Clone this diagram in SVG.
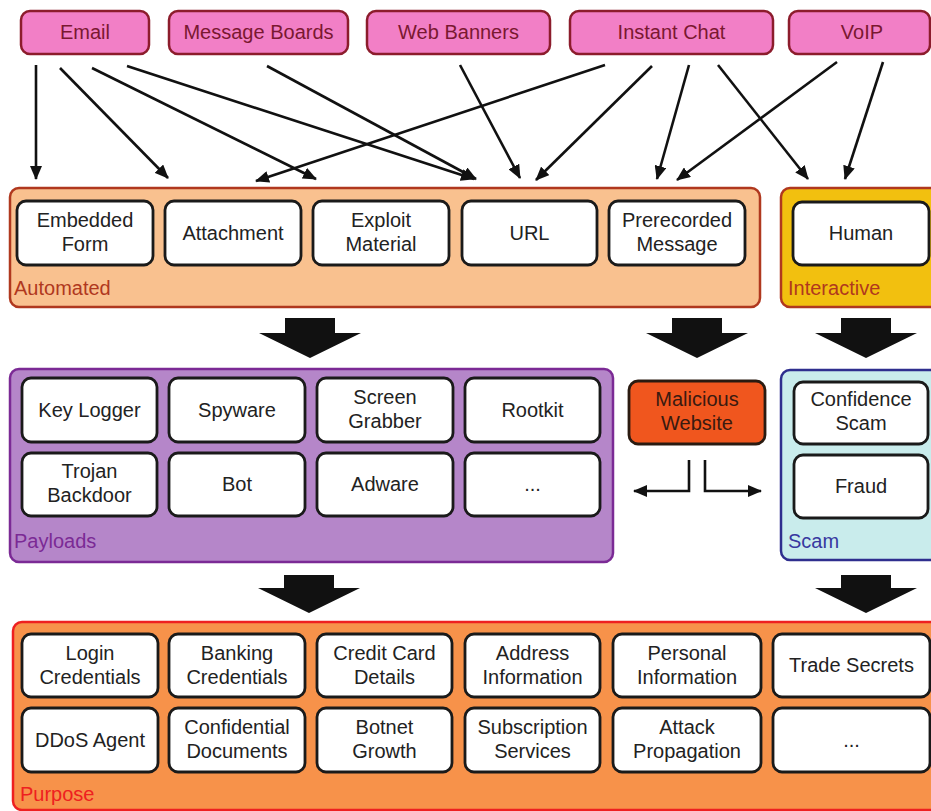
<svg xmlns="http://www.w3.org/2000/svg" width="931" height="811" viewBox="0 0 931 811">
<style>
text{font-family:"Liberation Sans",Arial,sans-serif;}
.src rect{fill:#f27fc6;stroke:#8c1c2c;stroke-width:2.5;}
.src text{fill:#7a1830;font-size:20px;text-anchor:middle;}
.box rect{fill:#fff;stroke:#1a1a1a;stroke-width:2.8;}
.box text{fill:#222;font-size:20px;text-anchor:middle;}
.lbl{font-size:20px;}
.con line,.con path{stroke:#111;stroke-width:2.6;fill:none;marker-end:url(#ah);}
.big{fill:#111;}
</style>
<defs>
<marker id="ah" markerUnits="userSpaceOnUse" markerWidth="14" markerHeight="12" refX="13" refY="6" orient="auto">
<path d="M0,0 L14,6 L0,12 z" fill="#111"/>
</marker>
</defs>
<rect width="931" height="811" fill="#fff"/>

<!-- Sources -->
<g id="email" class="src"><rect x="21" y="11" width="128" height="43" rx="9"/><text x="85" y="39">Email</text></g>
<g id="message-boards" class="src"><rect x="169" y="11" width="179" height="43" rx="9"/><text x="258.5" y="39">Message Boards</text></g>
<g id="web-banners" class="src"><rect x="367" y="11" width="183" height="43" rx="9"/><text x="458.5" y="39">Web Banners</text></g>
<g id="instant-chat" class="src"><rect x="570" y="11" width="203" height="43" rx="9"/><text x="671.5" y="39">Instant Chat</text></g>
<g id="voip" class="src"><rect x="789" y="11" width="141" height="43" rx="9"/><text x="862" y="39">VoIP</text></g>

<!-- Automated -->
<g id="automated">
<rect x="10" y="188" width="750" height="119" rx="9" fill="#f9c18f" stroke="#b0381e" stroke-width="2.5"/>
<text class="lbl" x="14" y="295" fill="#b0381e">Automated</text>
</g>
<g id="embedded-form" class="box"><rect x="17" y="201" width="136" height="64" rx="9"/><text x="85" y="227">Embedded</text><text x="85" y="251">Form</text></g>
<g id="attachment" class="box"><rect x="165" y="201" width="136" height="64" rx="9"/><text x="233" y="240">Attachment</text></g>
<g id="exploit-material" class="box"><rect x="313" y="201" width="136" height="64" rx="9"/><text x="381" y="227">Exploit</text><text x="381" y="251">Material</text></g>
<g id="url" class="box"><rect x="462" y="201" width="135" height="64" rx="9"/><text x="529.5" y="240">URL</text></g>
<g id="prerecorded-message" class="box"><rect x="609" y="201" width="136" height="64" rx="9"/><text x="677" y="227">Prerecorded</text><text x="677" y="251">Message</text></g>

<!-- Interactive -->
<g id="interactive">
<rect x="781" y="188" width="170" height="119" rx="9" fill="#f2c00f" stroke="#b0381e" stroke-width="2.5"/>
<text class="lbl" x="788" y="295" fill="#b0381e">Interactive</text>
</g>
<g id="human" class="box"><rect x="793" y="202" width="136" height="63" rx="9"/><text x="861" y="240">Human</text></g>

<!-- Big arrows row 1 -->
<polygon class="big" points="285,318 335,318 335,333 361,333 310,358 259,333 285,333"/>
<polygon class="big" points="672,318 722,318 722,333 748,333 697,358 646,333 672,333"/>
<polygon class="big" points="841,318 891,318 891,333 917,333 866,358 815,333 841,333"/>

<!-- Payloads -->
<g id="payloads">
<rect x="10" y="369" width="603" height="193" rx="9" fill="#b586c9" stroke="#7b2a95" stroke-width="2.5"/>
<text class="lbl" x="14" y="548" fill="#7b2a95">Payloads</text>
</g>
<g id="key-logger" class="box"><rect x="22" y="378" width="135" height="64" rx="9"/><text x="89.5" y="417">Key Logger</text></g>
<g id="spyware" class="box"><rect x="169" y="378" width="136" height="64" rx="9"/><text x="237" y="417">Spyware</text></g>
<g id="screen-grabber" class="box"><rect x="317" y="378" width="136" height="64" rx="9"/><text x="385" y="404">Screen</text><text x="385" y="428">Grabber</text></g>
<g id="rootkit" class="box"><rect x="465" y="378" width="135" height="64" rx="9"/><text x="532.5" y="417">Rootkit</text></g>
<g id="trojan-backdoor" class="box"><rect x="22" y="453" width="135" height="63" rx="9"/><text x="89.5" y="478">Trojan</text><text x="89.5" y="502">Backdoor</text></g>
<g id="bot" class="box"><rect x="169" y="453" width="136" height="63" rx="9"/><text x="237" y="491">Bot</text></g>
<g id="adware" class="box"><rect x="317" y="453" width="136" height="63" rx="9"/><text x="385" y="491">Adware</text></g>
<g id="payloads-more" class="box"><rect x="465" y="453" width="135" height="63" rx="9"/><text x="532.5" y="491" fill="#666">...</text></g>

<!-- Malicious Website -->
<g id="malicious-website">
<rect x="629" y="381" width="136" height="63" rx="9" fill="#f0561e" stroke="#2a1a10" stroke-width="2.8"/>
<text x="697" y="406" font-size="20" fill="#3a1a10" text-anchor="middle">Malicious</text>
<text x="697" y="430" font-size="20" fill="#3a1a10" text-anchor="middle">Website</text>
</g>

<!-- Scam -->
<g id="scam">
<rect x="781" y="370" width="170" height="190" rx="9" fill="#c9ecec" stroke="#2e2e8e" stroke-width="2.5"/>
<text class="lbl" x="788" y="548" fill="#3838a0">Scam</text>
</g>
<g id="confidence-scam" class="box"><rect x="794" y="382" width="134" height="62" rx="9"/><text x="861" y="406">Confidence</text><text x="861" y="430">Scam</text></g>
<g id="fraud" class="box"><rect x="794" y="455" width="134" height="63" rx="9"/><text x="861" y="493">Fraud</text></g>

<!-- Big arrows row 2 -->
<polygon class="big" points="284,575 334,575 334,588 360,588 309,613 258,588 284,588"/>
<polygon class="big" points="841,575 891,575 891,588 917,588 866,613 815,588 841,588"/>

<!-- Purpose -->
<g id="purpose">
<rect x="13" y="622" width="940" height="188" rx="9" fill="#f7924a" stroke="#ee2020" stroke-width="2.5"/>
<text class="lbl" x="20" y="801" fill="#ee2020">Purpose</text>
</g>
<g id="login-credentials" class="box"><rect x="22" y="634" width="136" height="63" rx="9"/><text x="90" y="660">Login</text><text x="90" y="684">Credentials</text></g>
<g id="banking-credentials" class="box"><rect x="169" y="634" width="136" height="63" rx="9"/><text x="237" y="660">Banking</text><text x="237" y="684">Credentials</text></g>
<g id="credit-card-details" class="box"><rect x="317" y="634" width="135" height="63" rx="9"/><text x="384.5" y="660">Credit Card</text><text x="384.5" y="684">Details</text></g>
<g id="address-information" class="box"><rect x="465" y="634" width="135" height="63" rx="9"/><text x="532.5" y="660">Address</text><text x="532.5" y="684">Information</text></g>
<g id="personal-information" class="box"><rect x="613" y="634" width="148" height="63" rx="9"/><text x="687" y="660">Personal</text><text x="687" y="684">Information</text></g>
<g id="trade-secrets" class="box"><rect x="773" y="634" width="157" height="63" rx="9"/><text x="851.5" y="672">Trade Secrets</text></g>
<g id="ddos-agent" class="box"><rect x="22" y="708" width="136" height="64" rx="9"/><text x="90" y="747">DDoS Agent</text></g>
<g id="confidential-documents" class="box"><rect x="169" y="708" width="136" height="64" rx="9"/><text x="237" y="734">Confidential</text><text x="237" y="758">Documents</text></g>
<g id="botnet-growth" class="box"><rect x="317" y="708" width="135" height="64" rx="9"/><text x="384.5" y="734">Botnet</text><text x="384.5" y="758">Growth</text></g>
<g id="subscription-services" class="box"><rect x="465" y="708" width="135" height="64" rx="9"/><text x="532.5" y="734">Subscription</text><text x="532.5" y="758">Services</text></g>
<g id="attack-propagation" class="box"><rect x="613" y="708" width="148" height="64" rx="9"/><text x="687" y="734">Attack</text><text x="687" y="758">Propagation</text></g>
<g id="purpose-more" class="box"><rect x="773" y="708" width="157" height="64" rx="9"/><text x="851.5" y="747" fill="#666">...</text></g>

<!-- Connectors -->
<g id="connectors" class="con">
<line x1="36" y1="65" x2="36" y2="179"/>
<line x1="60" y1="68" x2="168" y2="178"/>
<line x1="92" y1="68" x2="316" y2="179"/>
<line x1="127" y1="66" x2="474" y2="179"/>
<line x1="267" y1="66" x2="476" y2="179"/>
<line x1="460" y1="65" x2="520" y2="178"/>
<line x1="605" y1="65" x2="256" y2="181"/>
<line x1="652" y1="66" x2="536" y2="180"/>
<line x1="689" y1="65" x2="657" y2="179"/>
<line x1="718" y1="65" x2="808" y2="179"/>
<line x1="837" y1="62" x2="677" y2="180"/>
<line x1="883" y1="62" x2="845" y2="179"/>
<path d="M689,460 V491 H634"/>
<path d="M705,460 V491 H761"/>
</g>
</svg>
